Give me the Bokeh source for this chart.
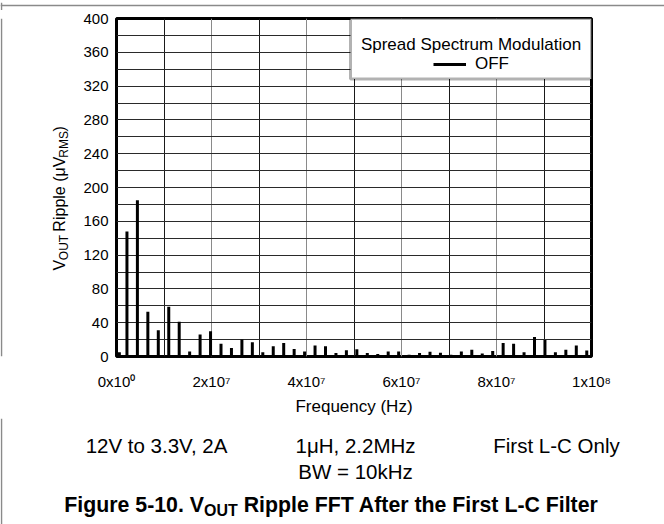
import numpy as np
from bokeh.plotting import figure
from bokeh.layouts import column, row
from bokeh.models import (FixedTicker, Label, BoxAnnotation, Legend, LegendItem,
                          ColumnDataSource, Range1d, Span)
from bokeh.embed import file_html
from bokeh.resources import INLINE

# ---------------- data ----------------
freq_mhz = [0.6, 2.2, 4.4, 6.6, 8.8, 11.0, 13.2, 15.4, 17.6, 19.8, 22.0,
            24.2, 26.4, 28.6, 30.8, 33.0, 35.2, 37.4, 39.6, 41.8, 44.0,
            46.2, 48.4, 50.6, 52.8, 55.0, 57.2, 59.4, 61.6, 63.8, 66.0,
            68.2, 70.4, 72.6, 74.8, 77.0, 79.2, 81.4, 83.6, 85.8, 88.0,
            90.2, 92.4, 94.6, 96.8, 99.0]
ripple_uv = [5, 148, 185, 53, 31, 59, 41, 6, 26, 30, 15,
             10, 20, 17, 5, 12, 16, 9, 6, 13, 12,
             4, 7.5, 8.5, 4, 3, 6, 6, 2, 4, 5.5,
             4.5, 2, 6, 8, 3.5, 6.5, 16, 15, 5, 23,
             19.5, 5, 8, 13, 7]

x_ticks = [0, 2e7, 4e7, 6e7, 8e7, 1e8]
x_tick_labels = ["0x10\u2070", "2x10\u2077", "4x10\u2077", "6x10\u2077", "8x10\u2077", "1x10\u2078"]
x_minor = [1e7, 3e7, 5e7, 7e7, 9e7]
y_ticks = [0, 40, 80, 120, 160, 200, 240, 280, 320, 360, 400]
y_minor = [20, 60, 100, 140, 180, 220, 260, 300, 340, 380]

legend_title = "Spread Spectrum Modulation"
series_name = "OFF"
x_label = "Frequency (Hz)"
notes_row = ["12V to 3.3V, 2A", "1\u03bcH, 2.2MHz", "First L-C Only"]
note_bw = "BW = 10kHz"

FONT = "Liberation Sans"
FRAME_GRAY = "#8a8a8a"

W_REG = {'V': 667, 'O': 778, 'U': 722, 'T': 611, ' ': 278, 'R': 722, 'i': 222,
         'p': 556, 'l': 222, 'e': 556, '(': 333, ')': 333, '\u03bc': 576,
         'M': 833, 'S': 667}
W_BOLD = {'F': 611, 'i': 278, 'g': 611, 'u': 611, 'r': 389, 'e': 556, ' ': 278,
          '5': 556, '-': 333, '1': 556, '0': 556, '.': 278, 'V': 667, 'O': 778,
          'U': 722, 'T': 611, 'R': 722, 'p': 611, 'l': 278, 'A': 722, 'f': 333,
          't': 333, 'h': 611, 's': 556, 'L': 611, 'C': 722}

def text_w(s, size, bold=False):
    t = W_BOLD if bold else W_REG
    return sum(t.get(c, 556) for c in s) * size / 1000.0

# ---------------- helper figures for text (page-pixel coordinates) ----------------
class Strip:
    """Blank figure; its frame spans page x [x0, x0+w], page y [y0+bt, y0+h-bb]."""
    def __init__(self, w, h, x0, y0, bt=0, bb=0):
        self.x0 = x0
        self.ybot = y0 + h - bb
        fh = h - bb - bt
        f = figure(width=w, height=h, x_range=Range1d(0, w),
                   y_range=Range1d(0, fh), output_backend="svg",
                   toolbar_location=None, x_axis_location=None, y_axis_location=None,
                   min_border=0, min_border_left=0, min_border_right=0,
                   min_border_top=bt, min_border_bottom=bb,
                   outline_line_color=None, background_fill_color="white",
                   border_fill_color="white")
        f.xgrid.visible = False
        f.ygrid.visible = False
        self.fig = f

    def hline(self, py):
        self.fig.add_layout(Span(location=self.ybot - py, dimension="width",
                                 line_color=FRAME_GRAY, line_width=1.5))

    def vline(self, px):
        self.fig.add_layout(Span(location=px - self.x0, dimension="height",
                                 line_color=FRAME_GRAY, line_width=1.5))

    def lab(self, text, px, py, size, bold=False, angle=0.0):
        self.fig.add_layout(Label(x=px - self.x0, y=self.ybot - py, text=text,
                                  text_font=FONT, text_font_size=f"{size:.2f}px",
                                  text_align="center", text_baseline="middle",
                                  angle=angle,
                                  text_font_style="bold" if bold else "normal",
                                  text_color="black"))

    def rich_h(self, pieces, cx, cy):
        total = sum(text_w(t, s, b) for t, s, o, b in pieces)
        x = cx - total / 2
        for t, s, o, b in pieces:
            lead = len(t) - len(t.lstrip(" "))
            x += text_w(" " * lead, s, b)
            body = t.lstrip(" ")
            w = text_w(body, s, b)
            self.lab(body, x + w / 2, cy + o, s, bold=b)
            x += w

    def rich_v(self, pieces, cx, cy):
        total = sum(text_w(t, s, b) for t, s, o, b in pieces)
        y = cy + total / 2
        for t, s, o, b in pieces:
            lead = len(t) - len(t.lstrip(" "))
            y -= text_w(" " * lead, s, b)
            body = t.lstrip(" ")
            w = text_w(body, s, b)
            self.lab(body, cx + o, y - w / 2, s, bold=b, angle=np.pi / 2)
            y -= w

LEFT_W = 74
TOP_H = 10
TOP_B = 8           # frame top at page y 18
MAIN_H = 408        # 8 + 346 frame + 54 axis area
BOT_B = 54

top = Strip(664, TOP_H, 0, 0)
top.hline(3)
top.vline(1)

left = Strip(LEFT_W, MAIN_H, 0, TOP_H, bt=TOP_B, bb=BOT_B)
left.vline(1)
YS = 16
left.rich_v([("V", YS, 0, False), ("OUT", YS * 0.75, YS * 0.26, False),
             (" Ripple (\u03bcV", YS, 0, False), ("RMS", YS * 0.75, YS * 0.26, False),
             (")", YS, 0, False)], 59, 202)

bot = Strip(664, 524 - TOP_H - MAIN_H, 0, TOP_H + MAIN_H)
bot.vline(1)
bot.lab(notes_row[0], 156, 445, 20.5)
bot.lab(notes_row[1], 355, 445, 20.5)
bot.lab(notes_row[2], 556, 445, 20.5)
bot.lab(note_bw, 355, 471, 20.5)
CS = 21.3
bot.rich_h([("Figure 5-10. V", CS, 0, True), ("OUT", CS * 0.75, CS * 0.26, True),
            (" Ripple FFT After the First L-C Filter", CS, 0, True)], 331, 504)

# ---------------- main chart ----------------
src = ColumnDataSource(dict(f=[v * 1e6 for v in freq_mhz], v=ripple_uv))

p = figure(width=664 - LEFT_W, height=MAIN_H, output_backend="svg",
           toolbar_location=None,
           x_range=Range1d(0, 1e8), y_range=Range1d(0, 400),
           min_border_left=116 - LEFT_W, min_border_right=73, min_border_top=TOP_B,
           min_border_bottom=BOT_B, background_fill_color="white",
           border_fill_color="white")

p.outline_line_color = "black"
p.outline_line_width = 3

for ax in (p.xaxis, p.yaxis):
    ax.axis_line_color = None
    ax.major_tick_line_color = None
    ax.minor_tick_line_color = None
    ax.major_label_text_font = FONT
    ax.major_label_text_font_size = "15px"
    ax.major_label_text_color = "black"

p.xaxis.ticker = FixedTicker(ticks=x_ticks, minor_ticks=x_minor)
p.xaxis.major_label_overrides = {t: l for t, l in zip(x_ticks, x_tick_labels)}
p.xaxis.major_label_standoff = 10
p.xaxis.axis_label = x_label
p.xaxis.axis_label_text_font = FONT
p.xaxis.axis_label_text_font_size = "17px"
p.xaxis.axis_label_text_font_style = "normal"
p.xaxis.axis_label_text_color = "black"
p.xaxis.axis_label_standoff = 4
p.yaxis.ticker = FixedTicker(ticks=y_ticks, minor_ticks=y_minor)
p.yaxis.major_label_standoff = 2

p.xgrid.grid_line_color = "#8a8a8a"
p.xgrid.minor_grid_line_color = "#1a1a1a"
p.ygrid.grid_line_color = "#2a2a2a"
p.ygrid.minor_grid_line_color = "#2a2a2a"
for g in (p.xgrid, p.ygrid):
    g.grid_line_width = 1
    g.minor_grid_line_width = 1

seg = p.segment(x0="f", y0=0, x1="f", y1="v", source=src,
                line_color="black", line_width=3)

FR_L, FR_R, FR_T, FR_B = 116.0, 591.0, 18.0, 364.0
def dx(px):
    return (px - FR_L) * 1e8 / (FR_R - FR_L)
def dy(py):
    return (FR_B - py) * 400.0 / (FR_B - FR_T)

p.add_layout(BoxAnnotation(left=dx(350), right=1e8, bottom=dy(80), top=400,
                           fill_color="white", fill_alpha=1.0,
                           line_color="black", line_width=3))
p.add_layout(Label(x=dx(470.5), y=dy(45), text=legend_title, text_font=FONT,
                   text_font_size="17px", text_align="center",
                   text_baseline="middle", text_color="black"))
leg = Legend(items=[LegendItem(label=series_name, renderers=[seg])],
             location=(317, 282), padding=0, margin=0, spacing=0,
             border_line_color=None, background_fill_alpha=0,
             glyph_width=33, glyph_height=20, label_height=20,
             label_standoff=9, label_text_font=FONT,
             label_text_font_size="17px", label_text_color="black")
p.add_layout(leg)

layout = column(top.fig, row(left.fig, p), bot.fig)
open("out.html", "w").write(file_html(layout, INLINE))
